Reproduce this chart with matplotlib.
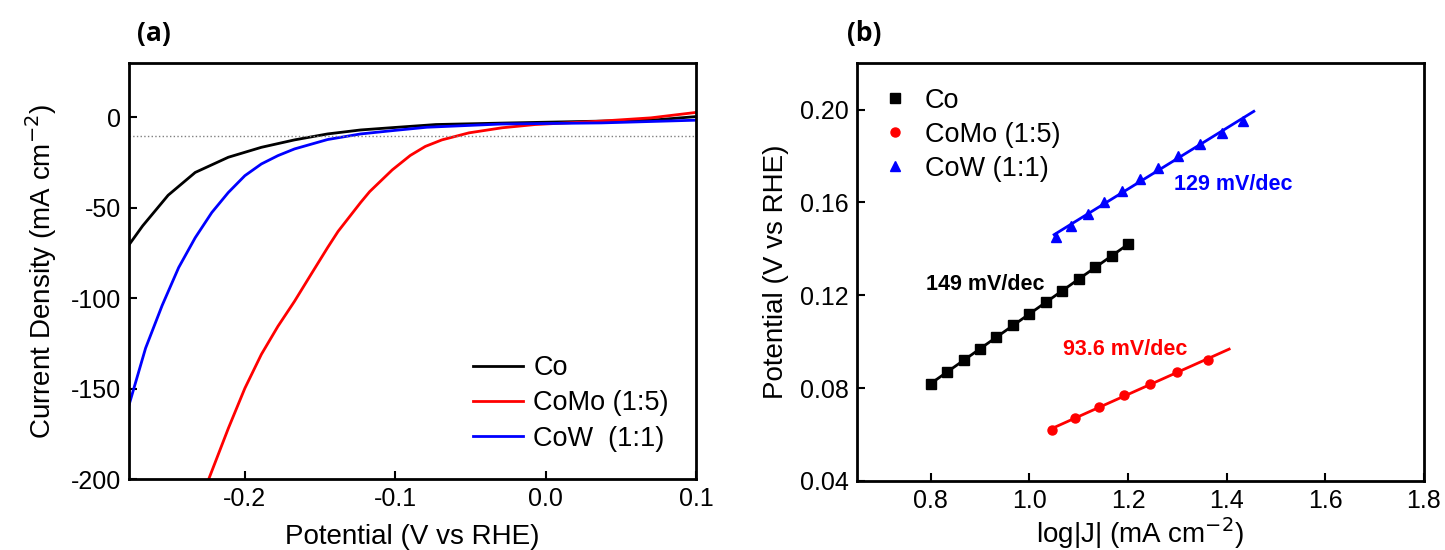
import numpy as np
import matplotlib.pyplot as plt

plt.rcParams['font.family'] = ['Liberation Sans', 'DejaVu Sans']

# (a) LSV curves
co_x = [-0.2775, -0.268, -0.26, -0.251, -0.233, -0.211, -0.189, -0.167, -0.145, -0.123, -0.1, -0.073, -0.029, 0.037, 0.075, 0.1]
co_y = [-71, -60, -52, -43, -30.4, -22, -16.5, -12.4, -9.1, -6.9, -5.5, -3.9, -3.1, -2.0, -1.2, 0.5]
cow_x = [-0.277, -0.266, -0.255, -0.244, -0.233, -0.222, -0.211, -0.2, -0.189, -0.178, -0.167, -0.145, -0.123, -0.101, -0.079, -0.029, 0.037, 0.1]
cow_y = [-159, -127.6, -104, -83, -66.5, -52.6, -41.5, -32.2, -25.7, -21.1, -17.4, -12.2, -9.1, -7.2, -5.4, -3.6, -3.0, -1.5]
como_x = [-0.224, -0.211, -0.2, -0.189, -0.178, -0.167, -0.156, -0.145, -0.138, -0.123, -0.117, -0.102, -0.09, -0.08, -0.069, -0.051, -0.029, -0.007, 0.037, 0.07, 0.1]
como_y = [-200, -172, -149.8, -131, -115.5, -101.7, -86.8, -72, -63, -47, -41, -29, -21, -16, -12.4, -8.5, -5.7, -3.9, -2.0, -0.2, 2.8]

# (b) Tafel data
tco_x = [0.8, 0.833, 0.867, 0.9, 0.933, 0.967, 1.0, 1.033, 1.067, 1.1, 1.133, 1.167, 1.2]
tco_y = [0.082, 0.087, 0.092, 0.097, 0.102, 0.107, 0.112, 0.117, 0.122, 0.127, 0.132, 0.137, 0.142]
tcomo_x = [1.045, 1.093, 1.141, 1.192, 1.244, 1.30, 1.362]
tcomo_y = [0.062, 0.067, 0.072, 0.077, 0.082, 0.087, 0.092]
tcow_x = [1.054, 1.085, 1.118, 1.151, 1.188, 1.224, 1.26, 1.301, 1.346, 1.391, 1.433]
tcow_y = [0.145, 0.150, 0.155, 0.160, 0.165, 0.170, 0.175, 0.180, 0.185, 0.190, 0.195]
fit_range = {'co': (0.8, 1.2), 'como': (1.045, 1.405), 'cow': (1.05, 1.455)}

fig = plt.figure(figsize=(14.45, 5.5), dpi=100)
ax1 = fig.add_axes([0.0893, 0.129, 0.3924, 0.756])
ax2 = fig.add_axes([0.593, 0.1255, 0.3924, 0.7595])

for ax in (ax1, ax2):
    for s in ax.spines.values():
        s.set_linewidth(2)
    ax.tick_params(direction='in', length=6, width=1.5, labelsize=18, pad=6, top=False, right=False)

# panel a
ax1.plot(co_x, co_y, color='black', lw=2, label='Co')
ax1.plot(como_x, como_y, color='red', lw=2, label='CoMo (1:5)')
ax1.plot(cow_x, cow_y, color='blue', lw=2, label='CoW  (1:1)')
ax1.axhline(-10, color='gray', ls=':', lw=1)
ax1.set_xlim(-0.277, 0.1)
ax1.set_ylim(-200, 30)
ax1.set_xticks([-0.2, -0.1, 0.0, 0.1])
ax1.set_xticklabels(['-0.2', '-0.1', '0.0', '0.1'])
ax1.set_yticks([0, -50, -100, -150, -200])
ax1.set_yticklabels(['0', '-50', '-100', '-150', '-200'])
ax1.set_xlabel('Potential (V vs RHE)', fontsize=20, labelpad=9)
ax1.set_ylabel('Current Density (mA cm$^{-2}$)', fontsize=20, labelpad=8)
ax1.legend(loc='lower right', frameon=False, fontsize=19.5, handlelength=1.85, handletextpad=0.4,
           labelspacing=0.35, borderaxespad=0.6)
fig.text(0.0948, 0.925, '(a)', fontsize=19, fontweight='bold', family='Open Sans')

# panel b
ax2.plot(tco_x, tco_y, 's', color='black', ms=6.5, label='Co')
ax2.plot(tcomo_x, tcomo_y, 'o', color='red', ms=6.5, label='CoMo (1:5)')
ax2.plot(tcow_x, tcow_y, '^', color='blue', ms=7.5, label='CoW (1:1)')
for xs, ys, key, c in [(tco_x, tco_y, 'co', 'black'), (tcomo_x, tcomo_y, 'como', 'red'),
                       (tcow_x, tcow_y, 'cow', 'blue')]:
    k, b = np.polyfit(xs, ys, 1)
    fx = np.array(fit_range[key])
    ax2.plot(fx, k * fx + b, color=c, lw=2)
ax2.text(1.414, 0.1677, '129 mV/dec', color='blue', fontsize=15.5, fontweight='bold', ha='center', va='center')
ax2.text(0.911, 0.1247, '149 mV/dec', color='black', fontsize=15.5, fontweight='bold', ha='center', va='center')
ax2.text(1.195, 0.0968, '93.6 mV/dec', color='red', fontsize=15.5, fontweight='bold', ha='center', va='center')
ax2.set_xlim(0.65, 1.8)
ax2.set_ylim(0.04, 0.22)
ax2.set_xticks([0.8, 1.0, 1.2, 1.4, 1.6, 1.8])
ax2.set_yticks([0.04, 0.08, 0.12, 0.16, 0.20])
ax2.set_yticklabels(['0.04', '0.08', '0.12', '0.16', '0.20'])
ax2.set_xlabel('log|J| (mA cm$^{-2}$)', fontsize=20, labelpad=1)
ax2.set_ylabel('Potential (V vs RHE)', fontsize=20, labelpad=8)
ax2.legend(loc='upper left', frameon=False, fontsize=19.5, handletextpad=0.6, handlelength=1.0,
           labelspacing=0.3, borderaxespad=0.5)
fig.text(0.586, 0.925, '(b)', fontsize=19, fontweight='bold', family='Open Sans')

fig.savefig('out.png', dpi=100)
